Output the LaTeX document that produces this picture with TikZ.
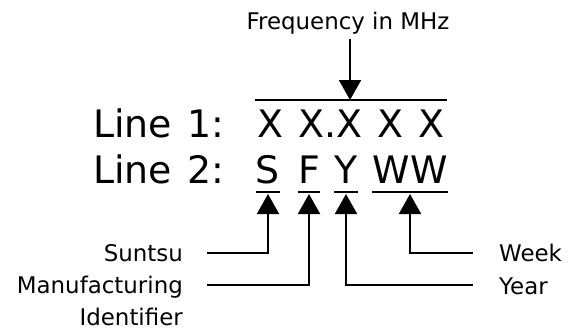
\documentclass[tikz,border=0pt]{standalone}
\usepackage{fontspec}
\setmainfont{DejaVu Sans}
\newfontfamily\bigfont[WordSpace=1.25]{DejaVu Sans}
\usetikzlibrary{arrows.meta,positioning}

\begin{document}
\begin{tikzpicture}[
    x=1bp, y=-1bp,
    lbl/.style={inner sep=0pt, font=\fontsize{23}{32}\selectfont},
    big/.style={inner sep=0pt, anchor=base, font=\bigfont\fontsize{38}{46}\selectfont},
    uline/.style={line width=2bp},
    arr/.style={-{Triangle[length=20bp,width=22bp]}, line width=2bp}
]
\useasboundingbox (0,0) rectangle (576,333);

\node[lbl] (freq) at (348,23) {Frequency in MHz};
\coordinate (fq) at (350,100);
\draw[uline] (255,100) -- (447,100);
\draw[arr] ([yshift=-5bp]freq.south -| fq) -- (fq);

\node[big, anchor=base west] (line1) at (93,137) {Line 1:};
\node[big, anchor=base west] (xs) at (257,137) {X X.X X X};
\node[big, anchor=base west] (line2) at (93,183) {Line 2:};
\node[big] (s) at (268,183) {S};
\node[big] (f) at (309,183) {F};
\node[big] (y) at (346,183) {Y};
\node[big] (ww) at (410,183) {WW};

% underlines under line 2
\foreach \n in {s,f,y,ww}
    \draw[uline] ([yshift=-9bp]\n.base west) -- ([yshift=-9bp]\n.base east);

\node[lbl, anchor=east] (suntsu) at (183,253) {Suntsu};
\node[lbl, anchor=north east, align=right] (mfg) at (183,276) {Manufacturing\\Identifier};
\node[lbl, anchor=west] (week) at (499,253) {Week};
\node[lbl, anchor=west] (year) at (499,286) {Year};

\coordinate (sEnd) at (207,253);
\coordinate (mEnd) at (207,285);
\coordinate (wEnd) at (473,253);
\coordinate (yEnd) at (473,285);

\draw[arr] (sEnd) -| ([yshift=-11bp]s.base);
\draw[arr] (mEnd) -| ([yshift=-11bp]f.base);
\draw[arr] (yEnd) -| ([yshift=-11bp]y.base);
\draw[arr] (wEnd) -| ([yshift=-11bp]ww.base);
\end{tikzpicture}
\end{document}
